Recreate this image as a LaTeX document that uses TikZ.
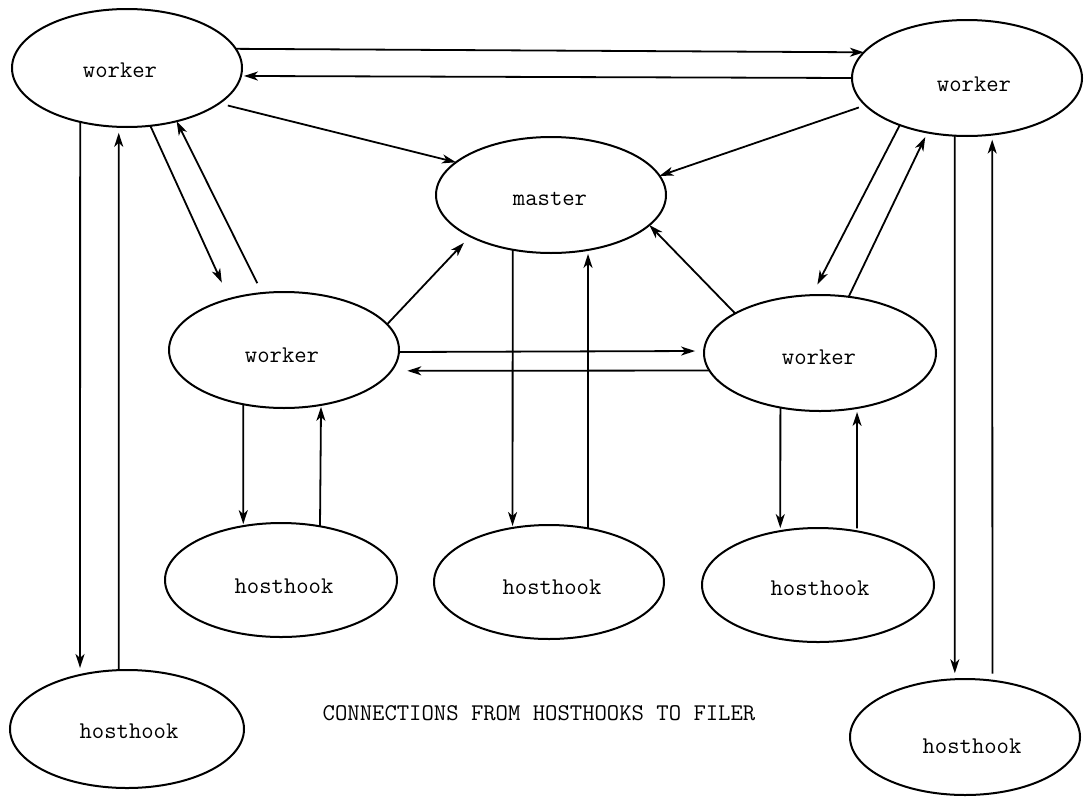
\documentclass[tikz,border=0pt]{standalone}
\usetikzlibrary{shapes.geometric,arrows.meta}
\begin{document}
\begin{tikzpicture}[x=1pt,y=-1pt,
  oval/.style 2 args={ellipse, draw, line width=2pt, inner sep=0pt, outer sep=0pt,
    minimum width=#1pt, minimum height=#2pt},
  txt/.style={font=\ttfamily\fontsize{24}{28}\selectfont, anchor=base, inner sep=0pt},
  conn/.style={line width=1.8pt, -{Stealth[length=14pt,width=9pt,inset=4pt]}}]
\useasboundingbox (0,0) rectangle (1084,798);

% ellipses
\node[oval={230}{118}] (tlw) at (127,68) {};
\node[oval={230}{116}] (trw) at (967,78) {};
\node[oval={230}{116}] (mas) at (551,195) {};
\node[oval={230}{116}] (mlw) at (284,350) {};
\node[oval={232}{116}] (mrw) at (820,353) {};
\node[oval={232}{114}] (mlh) at (281,580) {};
\node[oval={230}{114}] (mh) at (549,582) {};
\node[oval={232}{114}] (mrh) at (818,585) {};
\node[oval={234}{118}] (blh) at (127,729) {};
\node[oval={230}{116}] (brh) at (965,737) {};

% texts
\node[txt] (tlwt) at (120,77) {worker};
\node[txt] (trwt) at (974,91) {worker};
\node[txt] (mast) at (550,205) {master};
\node[txt] (mlwt) at (282,362) {worker};
\node[txt] (mrwt) at (819,364) {worker};
\node[txt] (mlht) at (284,593) {hosthook};
\node[txt] (mht) at (552,594) {hosthook};
\node[txt] (mrht) at (820,595) {hosthook};
\node[txt] (blht) at (129,738) {hosthook};
\node[txt] (brht) at (972,753) {hosthook};
\node[txt] (cap) at (539,720) {CONNECTIONS FROM HOSTHOOKS TO FILER};

% connectors
\draw[conn] (tlw.10.3) -- (trw.166.3);
\draw[conn, shorten >=3pt] (trw.180) -- (tlw.-4);
\draw[conn, shorten <=9pt] (tlw.-21.4) -- (mas.161.6);
\draw[conn, shorten <=7pt] (trw.195.4) -- (mas.10.7);
\draw[conn, shorten >=18pt] (tlw.-68.4) -- (mlw.137.6);
\draw[conn, shorten <=11pt] (mlw.111.2) -- (tlw.-47.1);
\draw[conn, shorten >=7pt] (tlw.-131.1) -- (blh.131);
\draw[conn, shorten >=6pt] (blh.98) -- (tlw.-98);
\draw[conn, shorten >=9pt] (mlw.14.7) -- (mas.207.5);
\draw[conn] (mrw.155.3) -- (mas.-17.9);
\draw[conn, shorten >=9pt] (mlw.-1) -- (mrw.179.5);
\draw[conn, shorten >=16pt] (mrw.189.8) -- (mlw.-11.7);
\draw[conn, shorten >=12pt] (trw.215.9) -- (mrw.98.8);
\draw[conn, shorten >=5pt] (mrw.63.6) -- (trw.-126.3);
\draw[conn, shorten >=6pt] (trw.-102.7) -- (brh.100.8);
\draw[conn, shorten <=7pt, shorten >=5pt] (brh.64.4) -- (trw.-66.2);
\draw[conn, shorten >=2pt] (mas.-125.5) -- (mh.124.4);
\draw[conn, shorten >=4pt] (mh.54) -- (mas.-56);
\draw[conn, shorten >=2pt] (mlw.-127.1) -- (mlh.125.2);
\draw[conn, shorten >=2pt] (mlh.54) -- (mlw.-56.8);
\draw[conn, shorten >=3pt] (mrw.-126.3) -- (mrh.125.2);
\draw[conn, shorten <=3pt, shorten >=4pt] (mrh.54.8) -- (mrw.-56.8);
\end{tikzpicture}
\end{document}
